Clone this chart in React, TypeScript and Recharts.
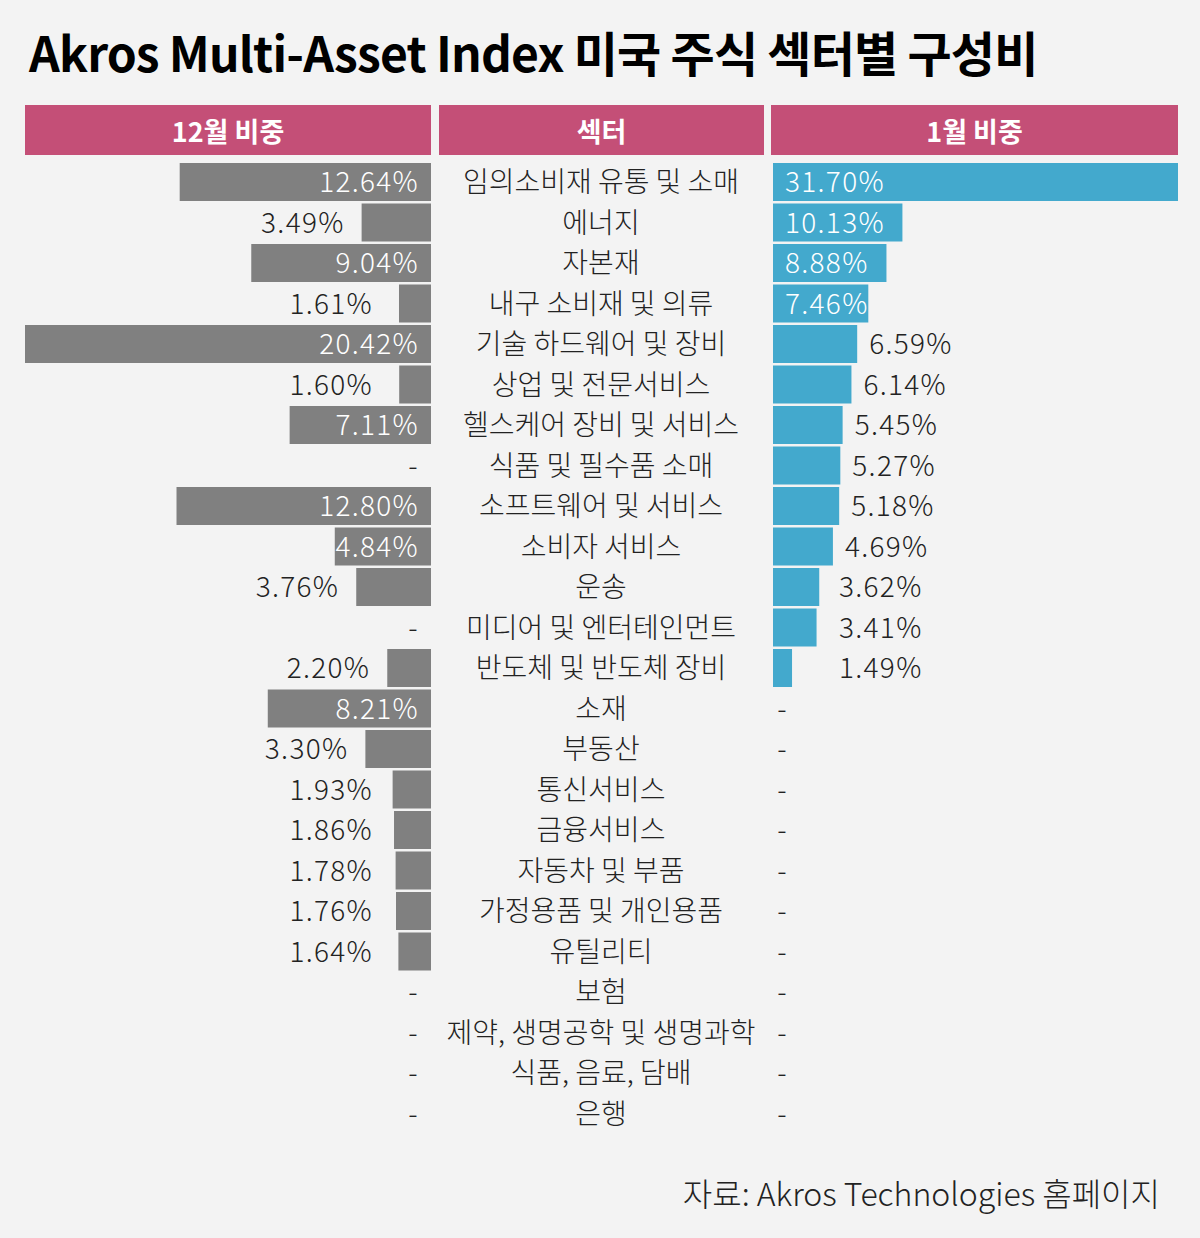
import React from 'react';
import { BarChart, Bar, XAxis, YAxis, LabelList } from 'recharts';

const title = 'Akros Multi-Asset Index 미국 주식 섹터별 구성비';
const headers = ['12월 비중', '섹터', '1월 비중'];
const source = '자료: Akros Technologies 홈페이지';

const sectors = [
  '임의소비재 유통 및 소매',
  '에너지',
  '자본재',
  '내구 소비재 및 의류',
  '기술 하드웨어 및 장비',
  '상업 및 전문서비스',
  '헬스케어 장비 및 서비스',
  '식품 및 필수품 소매',
  '소프트웨어 및 서비스',
  '소비자 서비스',
  '운송',
  '미디어 및 엔터테인먼트',
  '반도체 및 반도체 장비',
  '소재',
  '부동산',
  '통신서비스',
  '금융서비스',
  '자동차 및 부품',
  '가정용품 및 개인용품',
  '유틸리티',
  '보험',
  '제약, 생명공학 및 생명과학',
  '식품, 음료, 담배',
  '은행',
];

const decWeights: (number | null)[] = [
  12.64, 3.49, 9.04, 1.61, 20.42, 1.6, 7.11, null, 12.8, 4.84, 3.76, null,
  2.2, 8.21, 3.3, 1.93, 1.86, 1.78, 1.76, 1.64, null, null, null, null,
];

const janWeights: (number | null)[] = [
  31.7, 10.13, 8.88, 7.46, 6.59, 6.14, 5.45, 5.27, 5.18, 4.69, 3.62, 3.41,
  1.49, null, null, null, null, null, null, null, null, null, null, null,
];

const rows = sectors.map((s, i) => ({
  sector: s,
  dec: decWeights[i] ?? 0,
  jan: janWeights[i] ?? 0,
}));

const maxDec = Math.max(...decWeights.map((v) => v ?? 0));
const maxJan = Math.max(...janWeights.map((v) => v ?? 0));

const FONT = '"Noto Sans CJK KR", "Noto Sans", sans-serif';
const DARK = '#222222';
const GRAY = '#808080';
const BLUE = '#43a9cd';
const PINK = '#c44f77';
const BG = '#f3f3f3';

const LABEL_SIZE = 28;
const LABEL_WEIGHT = 300;
const NUM_SPACING = 1.3;
const PAD = 12; // extra svg room above/below rows so glyphs are not clipped

const fmt = (v: number) => v.toFixed(2) + '%';

const textCommon = (cy: number) =>
  ({
    y: cy,
    dy: '0.36em',
    fontSize: LABEL_SIZE,
    fontWeight: LABEL_WEIGHT,
    fontFamily: FONT,
  }) as any;

const LeftLabel = (props: any) => {
  const { x, y, width, height, value } = props;
  const v = Number(value);
  if (!v) return null;
  const l = Math.min(Number(x), Number(x) + Number(width));
  const r = Math.max(Number(x), Number(x) + Number(width));
  const cy = Number(y) + Number(height) / 2;
  if (r - l > 90) {
    return (
      <text {...textCommon(cy)} letterSpacing={NUM_SPACING} x={r - 12} textAnchor="end" fill="#ffffff">
        {fmt(v)}
      </text>
    );
  }
  return (
    <text {...textCommon(cy)} letterSpacing={NUM_SPACING} x={Math.min(l - 17, r - 58)} textAnchor="end" fill={DARK}>
      {fmt(v)}
    </text>
  );
};

const RightLabel = (props: any) => {
  const { x, y, width, height, value } = props;
  const v = Number(value);
  if (!v) return null;
  const l = Math.min(Number(x), Number(x) + Number(width));
  const r = Math.max(Number(x), Number(x) + Number(width));
  const cy = Number(y) + Number(height) / 2;
  if (r - l > 90) {
    return (
      <text {...textCommon(cy)} letterSpacing={NUM_SPACING} x={l + 12} textAnchor="start" fill="#ffffff">
        {fmt(v)}
      </text>
    );
  }
  return (
    <text {...textCommon(cy)} letterSpacing={NUM_SPACING} x={Math.max(r + 12, l + 66)} textAnchor="start" fill={DARK}>
      {fmt(v)}
    </text>
  );
};

// The right chart starts a little left of the centre column so that its
// category axis can also carry the "-" markers of both months.
const RIGHT_CHART_LEFT = 395;
const SECTOR_AXIS_W = 378;
const SECTOR_CENTER = 206;

const SectorTick = (props: any) => {
  const { y, payload, index } = props;
  const cy = Number(y);
  return (
    <g>
      {decWeights[index] == null && (
        <text {...textCommon(cy)} x={18} textAnchor="middle" fill={DARK}>
          -
        </text>
      )}
      <text {...textCommon(cy)} x={SECTOR_CENTER} textAnchor="middle" fill={DARK}>
        {payload.value}
      </text>
      {janWeights[index] == null && (
        <text {...textCommon(cy)} x={SECTOR_AXIS_W + 9} textAnchor="middle" fill={DARK}>
          -
        </text>
      )}
    </g>
  );
};

const headerStyle = (left: number, width: number): React.CSSProperties => ({
  position: 'absolute',
  left,
  top: 105,
  width,
  height: 50,
  background: PINK,
  color: '#ffffff',
  fontFamily: FONT,
  fontWeight: 700,
  fontSize: 27,
  display: 'flex',
  alignItems: 'center',
  justifyContent: 'center',
});

export default function App() {
  return (
    <div
      style={{
        position: 'relative',
        width: 1200,
        height: 1238,
        background: BG,
        overflow: 'hidden',
        fontFamily: FONT,
      }}
    >
      <style>{'body{margin:0;}'}</style>
      <div
        style={{
          position: 'absolute',
          left: 29,
          top: 27,
          fontSize: 48,
          lineHeight: '48px',
          fontWeight: 700,
          color: '#000',
          whiteSpace: 'nowrap',
          letterSpacing: -0.8,
        }}
      >
        {title}
      </div>

      <div style={headerStyle(25, 406)}>{headers[0]}</div>
      <div style={headerStyle(439, 325)}>{headers[1]}</div>
      <div style={headerStyle(771, 407)}>{headers[2]}</div>

      <div style={{ position: 'absolute', left: 25, top: 162 - PAD }}>
        <BarChart
          layout="vertical"
          width={406}
          height={972 + 2 * PAD}
          data={rows}
          margin={{ top: PAD, right: 0, bottom: PAD, left: 0 }}
          barCategoryGap={1}
        >
          <XAxis type="number" domain={[0, maxDec]} reversed hide />
          <YAxis type="category" dataKey="sector" hide />
          <Bar dataKey="dec" fill={GRAY} barSize={38} isAnimationActive={false}>
            <LabelList dataKey="dec" content={LeftLabel} />
          </Bar>
        </BarChart>
      </div>

      <div style={{ position: 'absolute', left: RIGHT_CHART_LEFT, top: 162 - PAD }}>
        <BarChart
          layout="vertical"
          width={SECTOR_AXIS_W + 405}
          height={972 + 2 * PAD}
          data={rows}
          margin={{ top: PAD, right: 0, bottom: PAD, left: 0 }}
          barCategoryGap={1}
        >
          <XAxis type="number" domain={[0, maxJan]} hide />
          <YAxis
            type="category"
            dataKey="sector"
            width={SECTOR_AXIS_W}
            axisLine={false}
            tickLine={false}
            interval={0}
            tick={<SectorTick />}
          />
          <Bar dataKey="jan" fill={BLUE} barSize={38} isAnimationActive={false}>
            <LabelList dataKey="jan" content={RightLabel} />
          </Bar>
        </BarChart>
      </div>

      <div
        style={{
          position: 'absolute',
          right: 40,
          top: 1176,
          fontSize: 32,
          lineHeight: '32px',
          fontWeight: 300,
          color: DARK,
          whiteSpace: 'nowrap',
        }}
      >
        {source}
      </div>
    </div>
  );
}
